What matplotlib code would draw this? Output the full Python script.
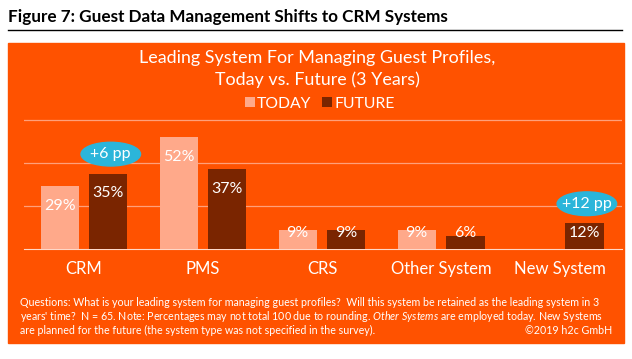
import matplotlib
matplotlib.use("Agg")
import matplotlib.pyplot as plt
from matplotlib.patches import Ellipse, Rectangle
import numpy as np

plt.rcParams['font.family'] = ['Lato', 'DejaVu Sans']
plt.rcParams['mathtext.fontset'] = 'custom'
plt.rcParams['mathtext.it'] = 'Lato:italic'
plt.rcParams['mathtext.rm'] = 'Lato'

categories = ["CRM", "PMS", "CRS", "Other System", "New System"]
today = [29, 52, 9, 9, None]
future = [35, 37, 9, 6, 12]
changes = {0: "+6 pp", 4: "+12 pp"}

BG = "#FF5200"
C_TODAY = "#FFA98A"
C_FUTURE = "#7A2500"
C_BUBBLE = "#2BB5DA"

fig = plt.figure(figsize=(6.32, 3.59), dpi=100)

# orange panel behind the chart
W, H = 632, 359
fig.patches.append(Rectangle((8 / W, 1 - 343 / H), 616 / W, 300 / H,
                             transform=fig.transFigure, color=BG, zorder=-5))

fig.text(8 / W, 1 - 17 / H, "Figure 7: Guest Data Management Shifts to CRM Systems",
         fontsize=12.3, fontweight="bold", color="black", va="center", ha="left")
fig.add_artist(plt.Line2D([8 / W, 622 / W], [1 - 30 / H, 1 - 30 / H],
                          transform=fig.transFigure, color="black", lw=1))

fig.text(317 / W, 1 - 58 / H, "Leading System For Managing Guest Profiles,",
         fontsize=12.9, color="white", ha="center", va="center")
fig.text(317 / W, 1 - 80 / H, "Today vs. Future (3 Years)",
         fontsize=12.9, color="white", ha="center", va="center")

ax = fig.add_axes([24 / W, 1 - 249 / H, 598 / W, 130 / H])
ax.set_zorder(2)
ax.set_facecolor("none")
x = np.arange(len(categories))
w = 0.32
off = 0.205

t_vals = [np.nan if v is None else v for v in today]
bt = ax.bar(x - off, t_vals, w, color=C_TODAY, zorder=3, label="TODAY")
bf = ax.bar(x + off, future, w, color=C_FUTURE, zorder=3, label="FUTURE")

for i in range(len(categories)):
    for xi, v in ((x[i] - off, today[i]), (x[i] + off, future[i])):
        if v is None:
            continue
        ax.text(xi, max(v - 9.2, 7.4), f"{v}%", color="white", fontsize=11.5,
                ha="center", va="center", zorder=4)

for i, txt in changes.items():
    yc = future[i] + 9
    ax.add_patch(Ellipse((x[i] + off + 0.02, yc), 0.5, 11, color=C_BUBBLE,
                         zorder=5, clip_on=False))
    ax.text(x[i] + off + 0.02, yc, txt, color="white", fontsize=11.5,
            ha="center", va="center", zorder=6)

ax.set_xlim(-0.504, 4.52)
ax.set_ylim(0, 60.3)
ax.set_yticks([20, 40, 60])
ax.yaxis.grid(True, color="#FFA07A", lw=0.9, zorder=1)
ax.tick_params(left=False, labelleft=False, bottom=False)
ax.set_xticks(x)
ax.set_xticklabels(categories, color="white", fontsize=12)
ax.tick_params(axis="x", pad=5)
for s in ["top", "right", "left"]:
    ax.spines[s].set_visible(False)
ax.spines["bottom"].set_color("#FFD8C8")
ax.spines["bottom"].set_zorder(2)

leg = fig.legend(handles=[bt, bf], loc="center", bbox_to_anchor=(320 / W, 1 - 104 / H),
                 ncol=2, frameon=False, fontsize=11.3, handlelength=0.6, handleheight=0.6,
                 handletextpad=0.15, columnspacing=0.7, labelcolor="white")

foot_lines = [
    "Questions: What is your leading system for managing guest profiles?  Will this system be retained as the leading system in 3",
    "years' time?  N = 65. Note: Percentages may not total 100 due to rounding. $\\it{Other\\ Systems}$ are employed today. New Systems",
    "are planned for the future (the system type was not specified in the survey).",
]
for k, line in enumerate(foot_lines):
    fig.text(20 / W, 1 - (302 + 14 * k) / H, line, fontsize=7.7, color="white",
             ha="left", va="center")
fig.text(612 / W, 1 - 330 / H, "©2019 h2c GmbH", fontsize=7.7, color="white",
         ha="right", va="center")

fig.savefig("out.png", dpi=100)
